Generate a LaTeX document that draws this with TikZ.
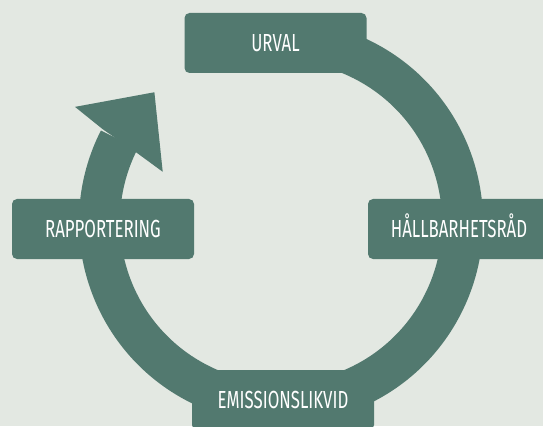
\documentclass[tikz,border=0pt]{standalone}
\usepackage{fontspec}
\newfontfamily\stagefont[FakeStretch=0.68]{Fira Sans}
\usepackage{xcolor}
\usepackage{tikz}
\definecolor{greenish}{HTML}{52796F}
\definecolor{paleish}{HTML}{E3E8E2}
\tikzset{%
  stage/.style={rectangle, rounded corners=5pt, fill=greenish, text=white, minimum width=182pt, minimum height=60pt, text height=17pt, text depth=0pt, font=\stagefont\fontsize{24.7}{26}\selectfont},
  loopband/.style={draw=greenish, line width=41pt}
}

\begin{document}
\begin{tikzpicture}[x=1pt, y=1pt]
        \fill [paleish] (0,0) rectangle (543,426);
        \clip (0,0) rectangle (543,426);

        \begin{scope}[shift={(281,204)}]
            \draw [loopband] (153:181.5) arc [start angle=153, end angle=460, radius=181.5];
            \fill [greenish] (152.5:201) -- (150.8:236) -- (134.3:181.3) -- (157:128.5) -- (154.3:161) -- cycle;
        \end{scope}

        \node [stage] (urv) at (275.5,383) {URVAL};
        \node [stage] (hlb) at (459,197)   {HÅLLBARHETSRÅD};
        \node [stage] (ems) at (283,26)    {EMISSIONSLIKVID};
        \node [stage] (rap) at (103,197)   {RAPPORTERING};
    \end{tikzpicture}
\end{document}
